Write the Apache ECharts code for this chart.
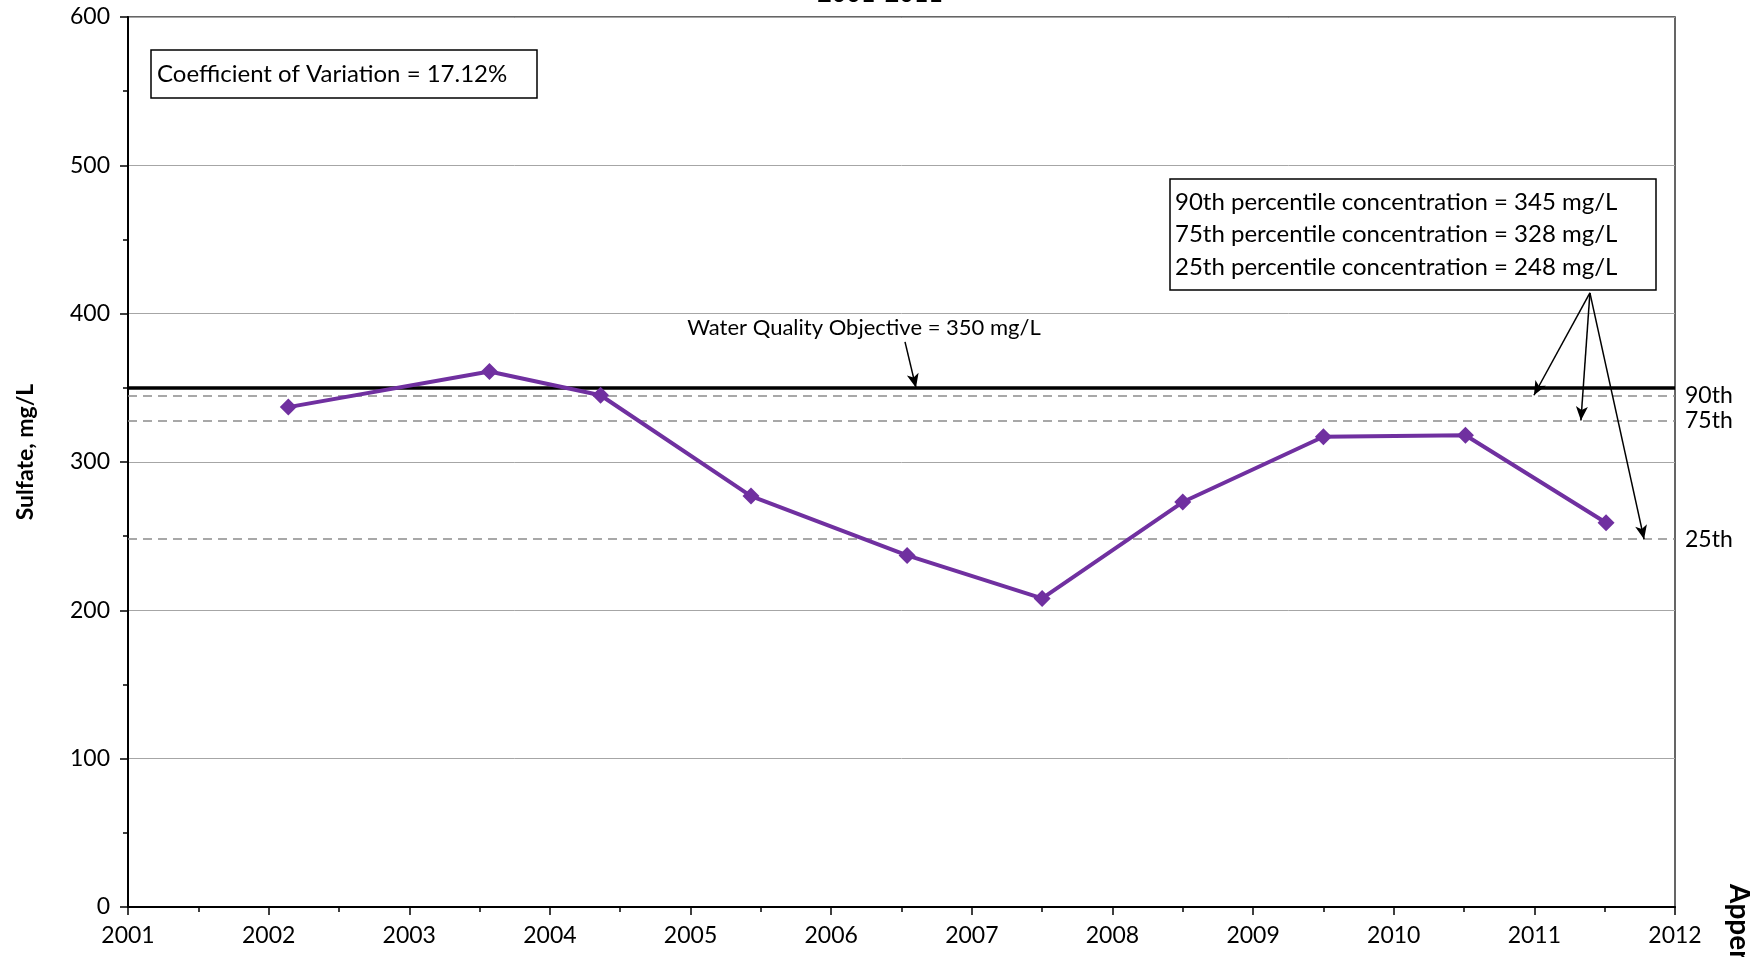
<!DOCTYPE html>
<html>
<head>
<meta charset="utf-8">
<title>Sulfate</title>
<script src="https://cdn.jsdelivr.net/npm/echarts@6/dist/echarts.min.js"></script>
<style>
	html, body {margin:0; padding:0; background:#fff;}
	#main {width:1750px; height:957px;}
</style>
</head>
<body>
<div id="main"></div>
<script>
// sample dates as decimal years, sulfate in mg/L
var years = [2002.14, 2003.57, 2004.36, 2005.43, 2006.54, 2007.50, 2008.50, 2009.50, 2010.51, 2011.51];
var sulfate = [337, 361, 345, 277, 237, 208, 273, 317, 318, 259];

var xMin = 2001, xMax = 2012;
var yMin = 0, yMax = 600, yStep = 100;

var objective = 350;
var pctNames = ['90th', '75th', '25th'];
var pctValues = [345, 328, 248];

var font = 'Lato, "Open Sans", sans-serif';

var points = [];
for (var i = 0; i < years.length; i++) {
	points.push([years[i], sulfate[i]]);
}

// horizontal reference lines
var refLines = [{
	yAxis: objective,
	lineStyle: {color:'#000', width:3.5, type:'solid'},
	label: {show:false}
}];
for (var j = 0; j < pctValues.length; j++) {
	refLines.push({
		yAxis: pctValues[j],
		lineStyle: {color:'#8c8c8c', width:1.5, type:[9, 6]},
		label: {show:true, position:'end', distance:10, formatter:pctNames[j], color:'#000', fontSize:23, fontFamily:font}
	});
}

// arrows from the text boxes down to the lines
function arrow(from, to) {
	return [{coord:from, symbol:'none'}, {coord:[to[0], to[1]], symbol:'arrow'}];
}
var arrows = [
	arrow([2006.525, 381], [2006.603, objective]),
	arrow([2011.395, 414], [2010.997, pctValues[0]]),
	arrow([2011.395, 414], [2011.331, pctValues[1]]),
	arrow([2011.395, 414], [2011.780, pctValues[2]])
];

var myChart = echarts.init(document.getElementById('main'));
var option = {
	animation: false,
	backgroundColor: '#fff',
	textStyle: {fontFamily: font},
	grid: {
		left: 128, right: 75, top: 17, bottom: 50,
		show: true, borderColor: '#333', borderWidth: 1.5
	},
	xAxis: {
		type: 'value',
		min: xMin, max: xMax, interval: 1,
		axisLine: {lineStyle:{color:'#000', width:2}},
		axisTick: {show:true, length:8, lineStyle:{color:'#000', width:1.5}},
		minorTick: {show:true, splitNumber:2, length:5, lineStyle:{color:'#000', width:1.5}},
		axisLabel: {
			color:'#000', fontSize:23, margin:17, fontFamily:font,
			formatter: function(v){ return String(v); }
		},
		splitLine: {show:false}
	},
	yAxis: {
		type: 'value',
		min: yMin, max: yMax, interval: yStep,
		axisLine: {show:true, lineStyle:{color:'#000', width:2}},
		axisTick: {show:true, length:8, lineStyle:{color:'#000', width:1.5}},
		minorTick: {show:true, splitNumber:2, length:5, lineStyle:{color:'#000', width:1.5}},
		axisLabel: {color:'#000', fontSize:23, margin:18, fontFamily:font},
		splitLine: {show:true, lineStyle:{color:'#a6a6a6', width:1}}
	},
	graphic: [
		{	//标题,被裁掉一半
			type:'text', x:880, y:6,
			style:{text:'2001-2011', font:'bold 25px ' + font, fill:'#000', align:'center', verticalAlign:'bottom'}
		},
		{
			type:'text', x:26, y:452, rotation:Math.PI / 2,
			style:{text:'Sulfate, mg/L', font:'bold 23px ' + font, fill:'#000', align:'center', verticalAlign:'middle'}
		},
		{
			type:'text', x:1739, y:884, rotation:-Math.PI / 2,
			style:{text:'Appendix', font:'bold 28px ' + font, fill:'#000', align:'left', verticalAlign:'middle'}
		},
		{
			type:'rect', shape:{x:151, y:50, width:386, height:48},
			style:{fill:'#fff', stroke:'#000', lineWidth:1.5}
		},
		{
			type:'text', x:157, y:74,
			style:{text:'Coefficient of Variation = 17.12%', font:'24px ' + font, fill:'#000', verticalAlign:'middle'}
		},
		{
			type:'rect', shape:{x:1170, y:179, width:486, height:111},
			style:{fill:'#fff', stroke:'#000', lineWidth:1.5}
		},
		{
			type:'text', x:1175, y:202,
			style:{text:'90th percentile concentration = 345 mg/L', font:'24px ' + font, fill:'#000', verticalAlign:'middle'}
		},
		{
			type:'text', x:1175, y:234,
			style:{text:'75th percentile concentration = 328 mg/L', font:'24px ' + font, fill:'#000', verticalAlign:'middle'}
		},
		{
			type:'text', x:1175, y:267,
			style:{text:'25th percentile concentration = 248 mg/L', font:'24px ' + font, fill:'#000', verticalAlign:'middle'}
		},
		{
			type:'text', x:864, y:328,
			style:{text:'Water Quality Objective = 350 mg/L', font:'22px ' + font, fill:'#000', align:'center', verticalAlign:'middle'}
		}
	],
	series: [
		{
			name: 'lines',
			type: 'line',
			data: [],
			markLine: {
				silent: true,
				symbol: ['none', 'none'],
				data: refLines
			}
		},
		{
			name: 'arrows',
			type: 'line',
			data: [],
			markLine: {
				silent: true,
				symbolSize: [9, 14],
				lineStyle: {color:'#000', width:1.5, type:'solid'},
				label: {show:false},
				data: arrows
			}
		},
		{
			name: 'Sulfate',
			type: 'line',
			data: points,
			symbol: 'diamond',
			symbolSize: 17,
			lineStyle: {color:'#7030a0', width:4},
			itemStyle: {color:'#7030a0'},
			z: 5
		}
	]
};
myChart.setOption(option);
</script>
</body>
</html>
